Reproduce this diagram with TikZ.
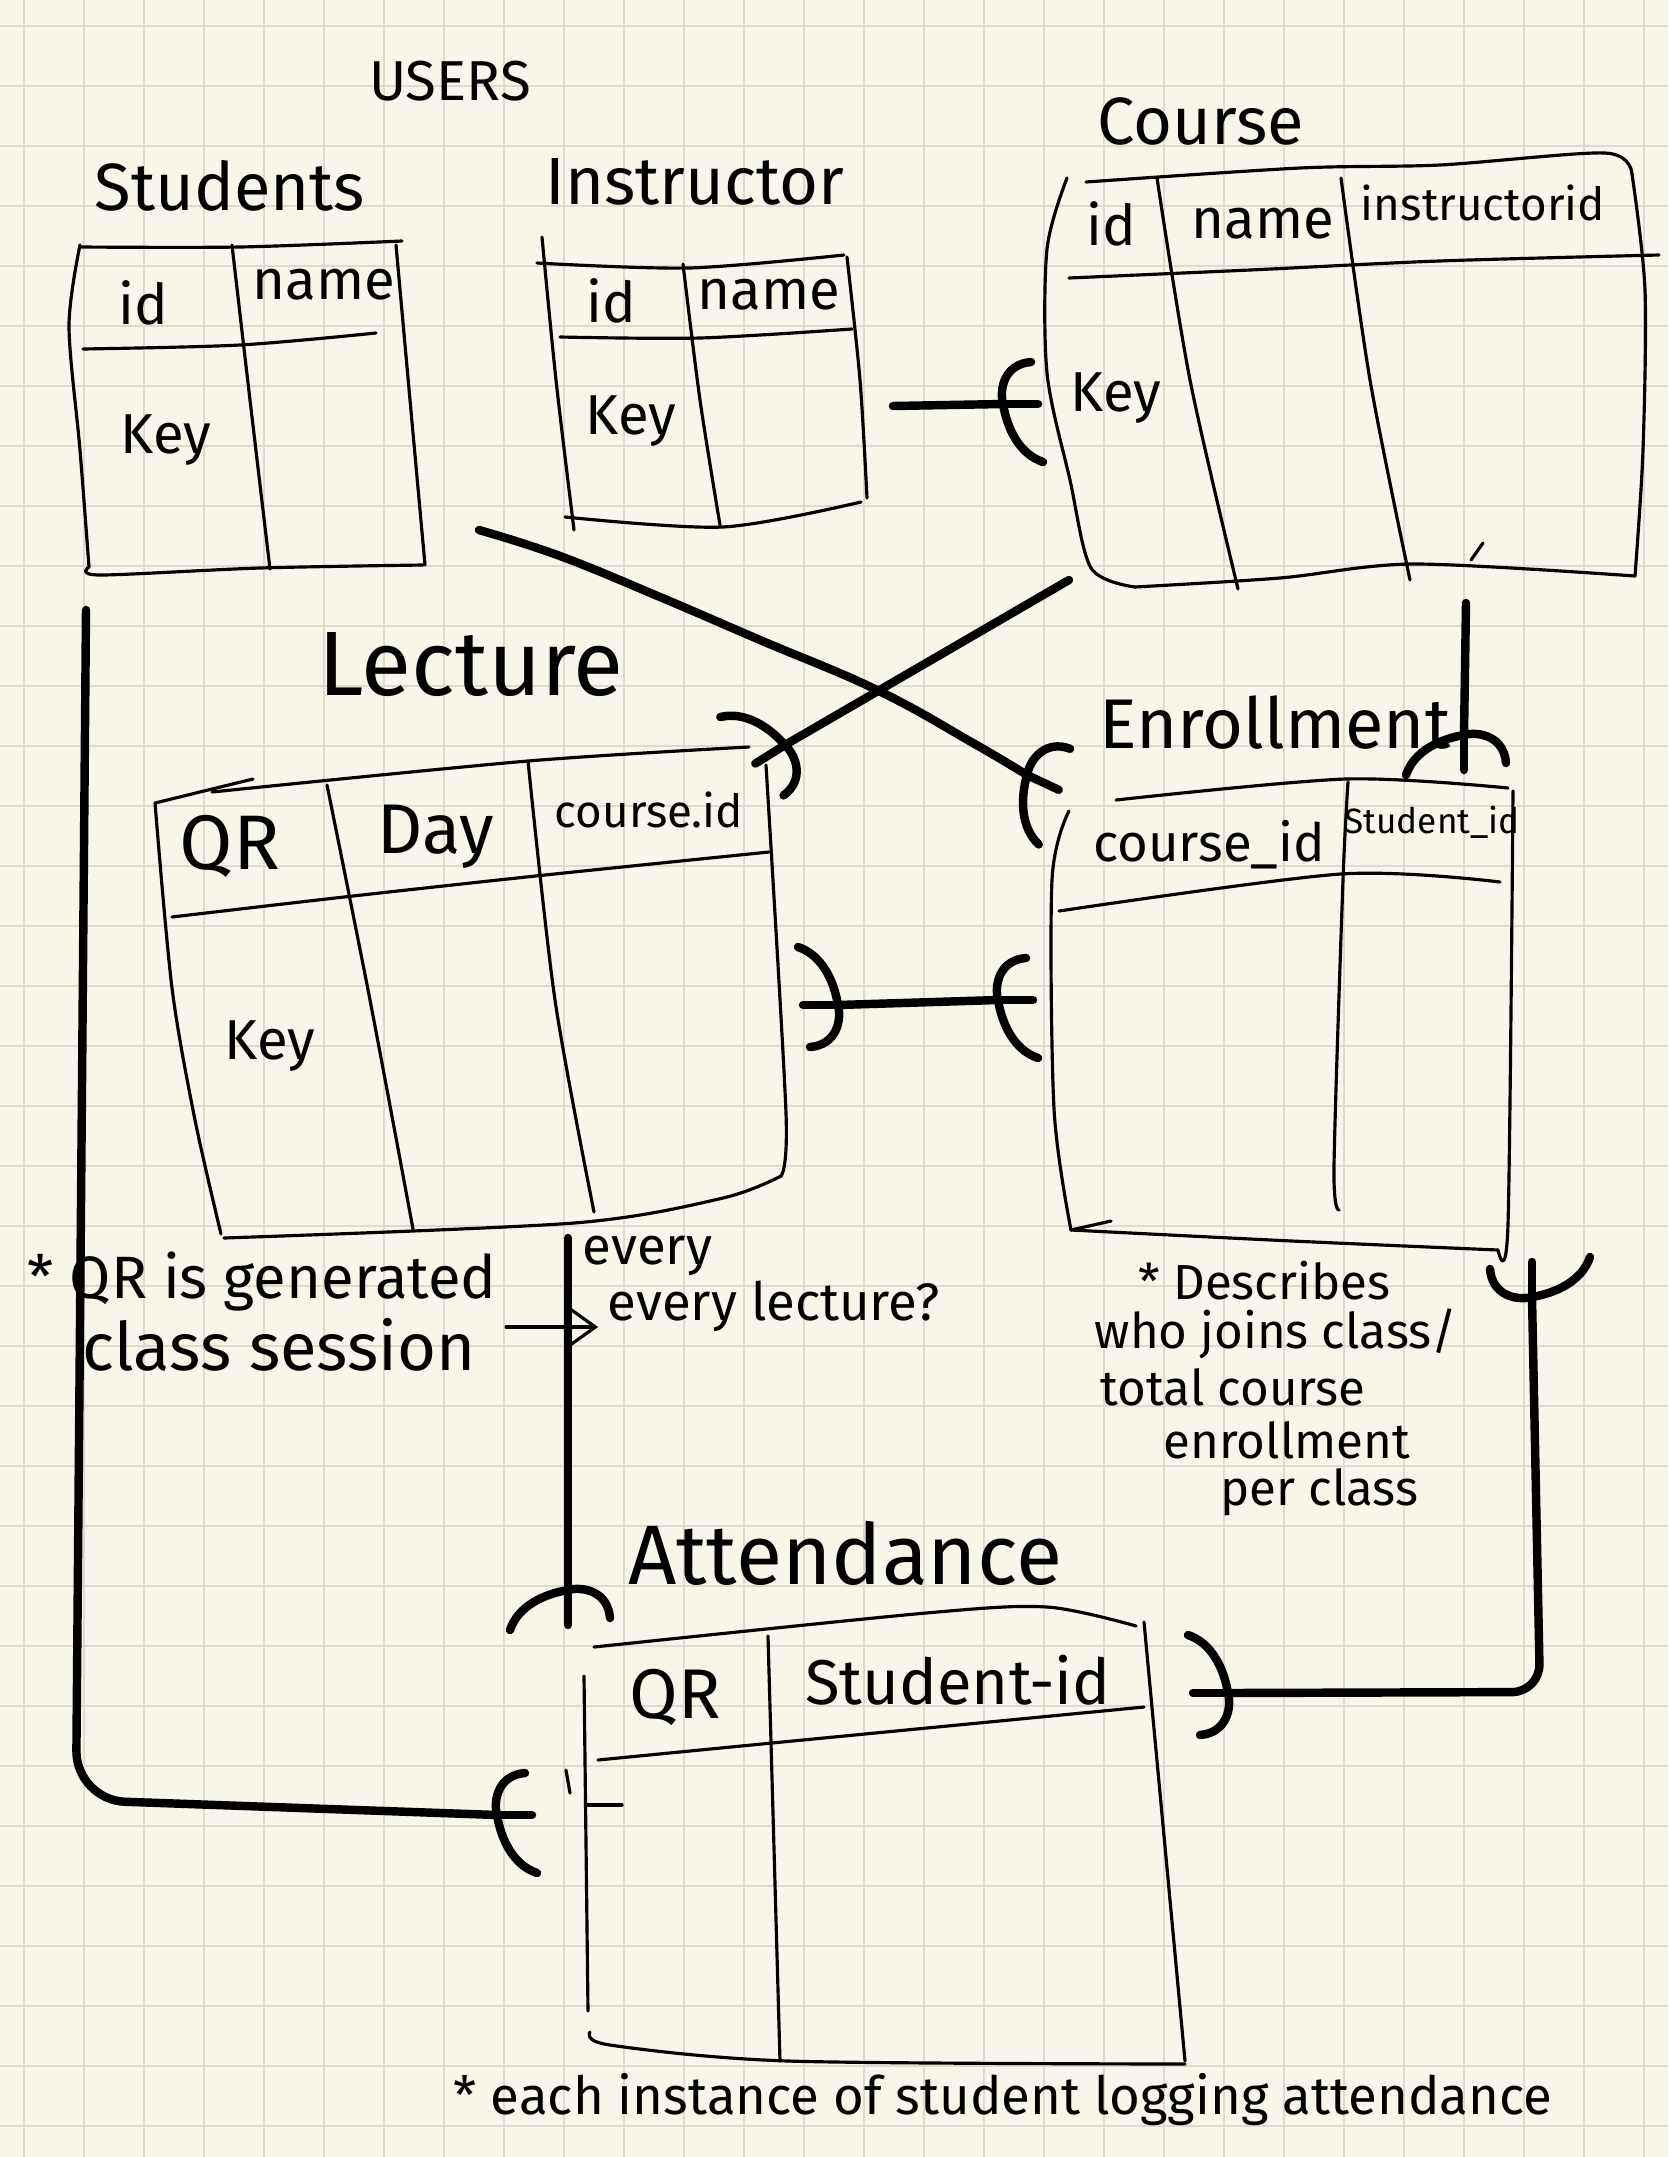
\documentclass[tikz,border=0pt]{standalone}
\usepackage{fontspec}
\setmainfont{Fira Sans}
\usepackage{tikz}
\usetikzlibrary{arrows.meta}
\definecolor{paper}{HTML}{F8F6EA}
\definecolor{gridline}{HTML}{DEDACE}

\begin{document}
\begin{tikzpicture}[x=0.01cm,y=-0.01cm,
 ink/.style={line width=0.9pt,line cap=round,line join=round},
 link/.style={line width=2.4pt,line cap=round,line join=round},
 title/.style={font=\fontsize{19}{22}\selectfont,inner sep=0pt},
 field/.style={font=\fontsize{16}{18}\selectfont,inner sep=0pt},
 note/.style={font=\fontsize{14}{16}\selectfont,inner sep=0pt,anchor=west},
 crowfoot/.pic={
  \draw[link] (0,0) -- (35,0);
  \draw[link] (28,-42) .. controls (2,-40) and (-4,-16) .. (0,0) .. controls (4,24) and (16,50) .. (40,58);
 }]
 \useasboundingbox (0,0) rectangle (1668,2157);
 \fill[paper] (0,0) rectangle (1668,2157);
 \foreach \gx in {24,84,...,1644} \draw[gridline,line width=0.6pt] (\gx,0) -- (\gx,2157);
 \foreach \gy in {26,86,...,2126} \draw[gridline,line width=0.6pt] (0,\gy) -- (1668,\gy);

 \node[title,font=\fontsize{16}{18}\selectfont] (users) at (450,81) {USERS};
 \node[title] (students) at (230,186) {Students};
 \node[title] (instructor) at (695,182) {Instructor};
 \node[title] (course) at (1201,121) {Course};
 \node[title,font=\fontsize{26}{28}\selectfont] (lecture) at (471,665) {Lecture};
 \node[title,font=\fontsize{20}{22}\selectfont] (enrollment) at (1275,723) {Enrollment};
 \node[title,font=\fontsize{24}{26}\selectfont] (attendance) at (845,1553) {Attendance};

 \draw[ink] plot[smooth] coordinates {(80,247) (240,247) (402,241)};
 \draw[ink] plot[smooth] coordinates {(80,245) (69,326) (80,450) (89,567)};
 \draw[ink] plot[smooth] coordinates {(396,245) (410,400) (425,565)};
 \draw[ink] plot[smooth] coordinates {(89,567) (100,575) (260,568) (423,565)};
 \draw[ink] plot[smooth] coordinates {(83,349) (240,345) (376,333)};
 \draw[ink] plot[smooth] coordinates {(232,245) (250,400) (270,569)};
 \node[field] (stu-id) at (143,303) {id};
 \node[field] (stu-name) at (324,285) {name};
 \node[field] (stu-key) at (166,440) {Key};

 \draw[ink] plot[smooth] coordinates {(537,263) (689,268) (844,255)};
 \draw[ink] plot[smooth] coordinates {(542,237) (556,380) (574,530)};
 \draw[ink] plot[smooth] coordinates {(847,257) (860,380) (867,498)};
 \draw[ink] plot[smooth] coordinates {(565,517) (723,527) (861,502)};
 \draw[ink] plot[smooth] coordinates {(560,337) (700,338) (852,329)};
 \draw[ink] plot[smooth] coordinates {(683,264) (700,400) (720,525)};
 \node[field] (ins-id) at (611,301) {id};
 \node[field] (ins-name) at (769,295) {name};
 \node[field] (ins-key) at (631,421) {Key};

 \draw[ink] plot[smooth] coordinates {(1086,182) (1300,168) (1440,165) (1605,153) (1632,174)};
 \draw[ink] plot[smooth] coordinates {(1067,178) (1047,249) (1047,373) (1070,480) (1091,568) (1135,587)};
 \draw[ink] plot[smooth] coordinates {(1135,587) (1280,578) (1414,564) (1635,576)};
 \draw[ink] plot[smooth] coordinates {(1632,174) (1645,290) (1643,450) (1635,576)};
 \draw[ink] plot[smooth] coordinates {(1069,278) (1250,270) (1439,261) (1659,255)};
 \draw[ink] plot[smooth] coordinates {(1157,178) (1190,380) (1238,589)};
 \draw[ink] plot[smooth] coordinates {(1341,178) (1370,380) (1410,580)};
 \draw[ink] (1471,560) -- (1483,543);
 \node[field] (crs-id) at (1111,224) {id};
 \node[field] (crs-name) at (1263,224) {name};
 \node[field,font=\fontsize{13}{15}\selectfont] (crs-ins) at (1483,203) {instructorid};
 \node[field] (crs-key) at (1116,398) {Key};

 \draw[ink] plot[smooth] coordinates {(212,792) (528,761) (749,747)};
 \draw[ink] (155,803) -- (253,779);
 \draw[ink] plot[smooth] coordinates {(155,803) (172,988) (195,1120) (221,1234)};
 \draw[ink] plot[smooth] coordinates {(224,1238) (574,1223) (723,1198) (781,1176)};
 \draw[ink] plot[smooth] coordinates {(766,765) (786,1113) (781,1176)};
 \draw[ink] plot[smooth] coordinates {(172,917) (344,897) (545,875) (769,852)};
 \draw[ink] plot[smooth] coordinates {(327,785) (370,1000) (413,1229)};
 \draw[ink] plot[smooth] coordinates {(528,761) (555,1000) (594,1212)};
 \node[field,font=\fontsize{22}{24}\selectfont] (lec-qr) at (230,846) {QR};
 \node[field,font=\fontsize{20}{22}\selectfont] (lec-day) at (436,837) {Day};
 \node[field,font=\fontsize{13}{15}\selectfont] (lec-crs) at (649,810) {course.id};
 \node[field] (lec-key) at (270,1046) {Key};

 \draw[ink] plot[smooth] coordinates {(1116,800) (1346,779) (1508,788)};
 \draw[ink] plot[smooth] coordinates {(1069,811) (1052,880) (1054,1109) (1071,1230)};
 \draw[ink] plot[smooth] coordinates {(1071,1230) (1292,1241) (1498,1250)};
 \draw[ink] plot[smooth] coordinates {(1513,791) (1508,1224) (1498,1250)};
 \draw[ink] plot[smooth] coordinates {(1059,911) (1341,874) (1500,882)};
 \draw[ink] plot[smooth] coordinates {(1348,782) (1343,880) (1334,1167) (1339,1210)};
 \draw[ink] (1071,1230) -- (1111,1221);
 \node[field,font=\fontsize{15}{17}\selectfont] (enr-crs) at (1209,845) {course\_id};
 \node[field,font=\fontsize{10}{12}\selectfont] (enr-stu) at (1432,822) {Student\_id};

 \draw[ink] plot[smooth] coordinates {(594,1647) (926,1613) (1047,1607) (1136,1626)};
 \draw[ink] (584,1676) -- (588,2011);
 \draw[ink] plot[smooth] coordinates {(590,2032) (610,2045) (788,2061) (1185,2064)};
 \draw[ink] plot[smooth] coordinates {(1144,1622) (1160,1793) (1185,2061)};
 \draw[ink] plot[smooth] coordinates {(598,1760) (772,1743) (1144,1707)};
 \draw[ink] (768,1636) -- (780,2061);
 \draw[ink] (566,1770) -- (570,1793);
 \draw[ink] (586,1805) -- (622,1805);
 \node[field,font=\fontsize{20}{22}\selectfont] (att-qr) at (675,1697) {QR};
 \node[field,font=\fontsize{18}{20}\selectfont] (att-stu) at (958,1680) {Student-id};

 \coordinate (ins-out) at (893,406);
 \coordinate (crs-in) at (1003,404);
 \coordinate (stu-out) at (479,530);
 \coordinate (enr-tl) at (1027,775);
 \coordinate (crs-out) at (1069,580);
 \coordinate (lec-tr) at (785,745);
 \coordinate (lec-r) at (838,1005);
 \coordinate (enr-l) at (998,1000);
 \coordinate (crs-bot) at (1466,603);
 \coordinate (enr-top) at (1464,735);
 \coordinate (lec-bot) at (568,1238);
 \coordinate (att-top) at (568,1590);
 \coordinate (stu-bot) at (86,610);
 \coordinate (stu-turn) at (76,1800);
 \coordinate (att-l) at (497,1815);
 \coordinate (enr-bot) at (1532,1297);
 \coordinate (enr-turn) at (1540,1692);
 \coordinate (att-r) at (1228,1693);

 \draw[link] (ins-out) -- (crs-in);
 \pic at (crs-in) {crowfoot};
 \draw[link] plot[smooth,tension=0.7] coordinates {(stu-out) (560,556) (660,597) (760,640) (877,690) (973,743) (enr-tl)};
 \pic[rotate=-25] at (enr-tl) {crowfoot};
 \draw[link] (crs-out) -- (lec-tr);
 \pic[rotate=-148] at (lec-tr) {crowfoot};
 \draw[link] (lec-r) -- (enr-l);
 \pic[rotate=180] at (lec-r) {crowfoot};
 \pic at (enr-l) {crowfoot};
 \draw[link] (crs-bot) -- (enr-top);
 \pic[rotate=-90] at (enr-top) {crowfoot};
 \draw[link] (lec-bot) -- (att-top);
 \pic[rotate=-90] at (att-top) {crowfoot};
 \draw[link,rounded corners=14] (stu-bot) -- (stu-turn) -- (att-l);
 \pic at (att-l) {crowfoot};
 \draw[link,rounded corners=8] (enr-bot) -- (enr-turn) -- (att-r);
 \pic[rotate=90] at (enr-bot) {crowfoot};
 \pic[rotate=180] at (att-r) {crowfoot};

 \node[note,font=\fontsize{17}{20}\selectfont] (qr-note) at (27,1282) {* QR is generated};
 \node[note,font=\fontsize{15}{18}\selectfont] (qr-every) at (582,1256) {every};
 \node[note,font=\fontsize{19}{22}\selectfont] (qr-session) at (82,1345) {class session};
 \node[note,font=\fontsize{15}{18}\selectfont] (qr-lecture) at (607,1306) {every lecture?};
 \draw[ink,-{Straight Barb[length=7pt,width=10pt]}] (qr-session.east) ++(30,-18) -- ++(92,0);

 \node[note] (enr-note) at (1138,1281) {* Describes};
 \node[note] (enr-note2) at (1094,1334) {who joins class/};
 \node[note] (enr-note3) at (1100,1387) {total course};
 \node[note] (enr-note4) at (1163,1440) {enrollment};
 \node[note] (enr-note5) at (1220,1492) {per class};

 \node[note,font=\fontsize{15}{18}\selectfont] (att-note) at (453,2100) {* each instance of student logging attendance};
\end{tikzpicture}
\end{document}
